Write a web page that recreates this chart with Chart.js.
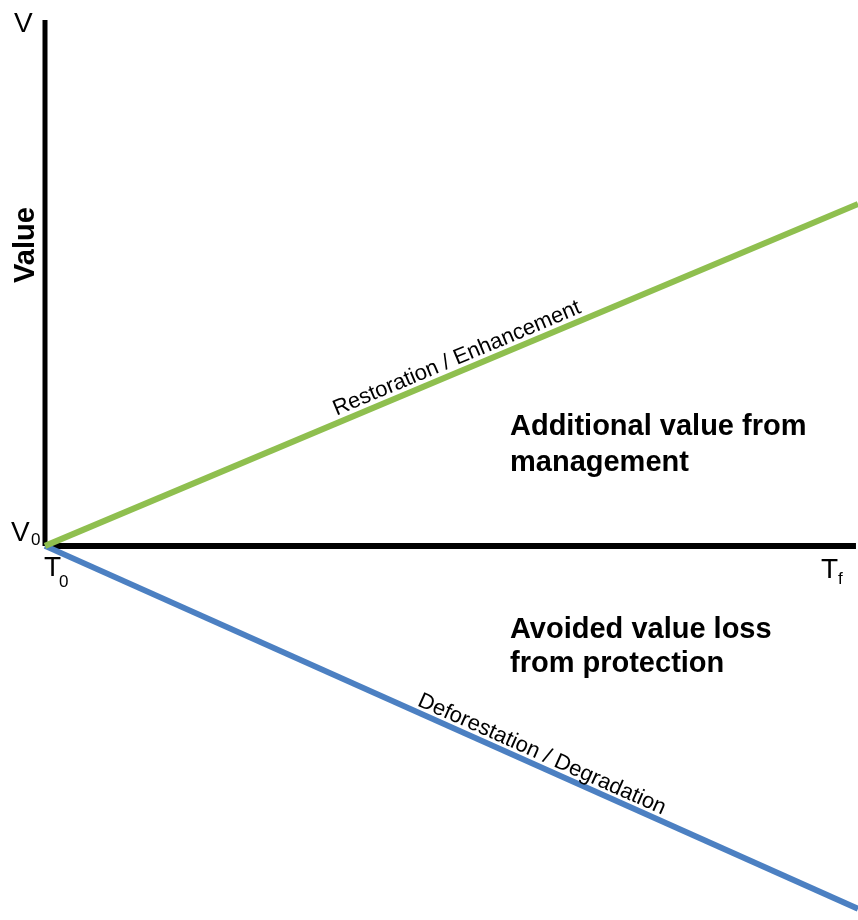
<!DOCTYPE html>
<html><head><meta charset="utf-8">
<script src="https://cdn.jsdelivr.net/npm/chart.js@4/dist/chart.umd.min.js"></script>
<style>html,body{margin:0;padding:0;background:#fff}#wrap{width:858px;height:920px}</style>
</head><body><div id="wrap"><canvas id="c" width="858" height="920"></canvas></div>
<script>
const timePoints = [0, 1];            // T0 .. Tf
const restoration = [0, 0.65];        // green line
const deforestation = [0, -0.69];     // blue line
const baseline = [0, 0];              // horizontal axis (V0)
const axisTop = 1.0;                  // V
const yMin = -0.7;
const labels = {
  v: 'V', v0: 'V', t0: 'T', tf: 'T', yTitle: 'Value',
  green: 'Restoration / Enhancement', blue: 'Deforestation / Degradation',
  gain: ['Additional value from', 'management'],
  loss: ['Avoided value loss', 'from protection']
};
const FONT = '"Liberation Sans", Arial, sans-serif';

const textPlugin = {
  id: 'texts',
  afterDatasetsDraw(chart) {
    const {ctx, scales: {x, y}} = chart;
    const x0 = x.getPixelForValue(0), y0 = y.getPixelForValue(0);
    ctx.save();
    ctx.fillStyle = '#000';
    ctx.textBaseline = 'alphabetic';
    // V
    ctx.font = '28px ' + FONT; ctx.textAlign = 'left';
    ctx.fillText(labels.v, 14, 32);
    // V0
    ctx.fillText(labels.v0, 11, y0 - 5);
    ctx.font = '17px ' + FONT; ctx.fillText('0', 31, y0 - 1);
    // T0
    ctx.font = '28px ' + FONT;
    ctx.fillText(labels.t0, x0 - 1, y0 + 30);
    ctx.font = '17px ' + FONT; ctx.fillText('0', x0 + 14, y0 + 41);
    // Tf
    ctx.font = '28px ' + FONT;
    ctx.fillText(labels.tf, 821, y0 + 32);
    ctx.font = '17px ' + FONT; ctx.fillText('f', 838, y0 + 38);
    // Value title
    ctx.save();
    ctx.translate(34, 245); ctx.rotate(-Math.PI / 2);
    ctx.font = 'bold 29px ' + FONT; ctx.textAlign = 'center';
    ctx.fillText(labels.yTitle, 0, 0);
    ctx.restore();
    // line labels
    function lineLabel(data, text, cx, offset) {
      const xa = x.getPixelForValue(timePoints[0]), ya = y.getPixelForValue(data[0]);
      const xb = x.getPixelForValue(timePoints[1]), yb = y.getPixelForValue(data[1]);
      const ang = Math.atan2(yb - ya, xb - xa);
      const frac = (cx - xa) / (xb - xa);
      const px = xa + (xb - xa) * frac, py = ya + (yb - ya) * frac;
      ctx.save();
      ctx.translate(px, py); ctx.rotate(ang);
      ctx.font = '22px ' + FONT; ctx.textAlign = 'center';
      ctx.fillText(text, 0, offset);
      ctx.restore();
    }
    lineLabel(restoration, labels.green, 462, -7);
    lineLabel(deforestation, labels.blue, 537, -6);
    // region labels
    ctx.font = 'bold 29px ' + FONT; ctx.textAlign = 'left';
    ctx.fillText(labels.gain[0], 510, 435);
    ctx.fillText(labels.gain[1], 510, 471);
    ctx.fillText(labels.loss[0], 510, 638);
    ctx.fillText(labels.loss[1], 510, 672);
    ctx.restore();
  }
};

new Chart(document.getElementById('c'), {
  type: 'line',
  data: {
    datasets: [
      { data: timePoints.map((t, i) => ({x: t, y: restoration[i]})), borderColor: '#8fbf4f', borderWidth: 6, pointRadius: 0, clip: false },
      { data: timePoints.map((t, i) => ({x: t, y: deforestation[i]})), borderColor: '#4c80c2', borderWidth: 6, pointRadius: 0, clip: false },
      { data: [{x: 0, y: baseline[0]}, {x: 0.9975, y: baseline[1]}], borderColor: '#000', borderWidth: 6, pointRadius: 0, borderCapStyle: 'butt', clip: false },
      { data: [{x: 0, y: 0}, {x: 0, y: axisTop}], borderColor: '#000', borderWidth: 5, pointRadius: 0, clip: false }
    ]
  },
  options: {
    responsive: false, animation: false,
    layout: { padding: { left: 45, top: 20, right: 0, bottom: 6 } },
    plugins: { legend: { display: false }, tooltip: { enabled: false } },
    scales: {
      x: { type: 'linear', min: 0, max: 1, display: false },
      y: { type: 'linear', min: yMin, max: axisTop, display: false }
    }
  },
  plugins: [textPlugin]
});
</script></body></html>
